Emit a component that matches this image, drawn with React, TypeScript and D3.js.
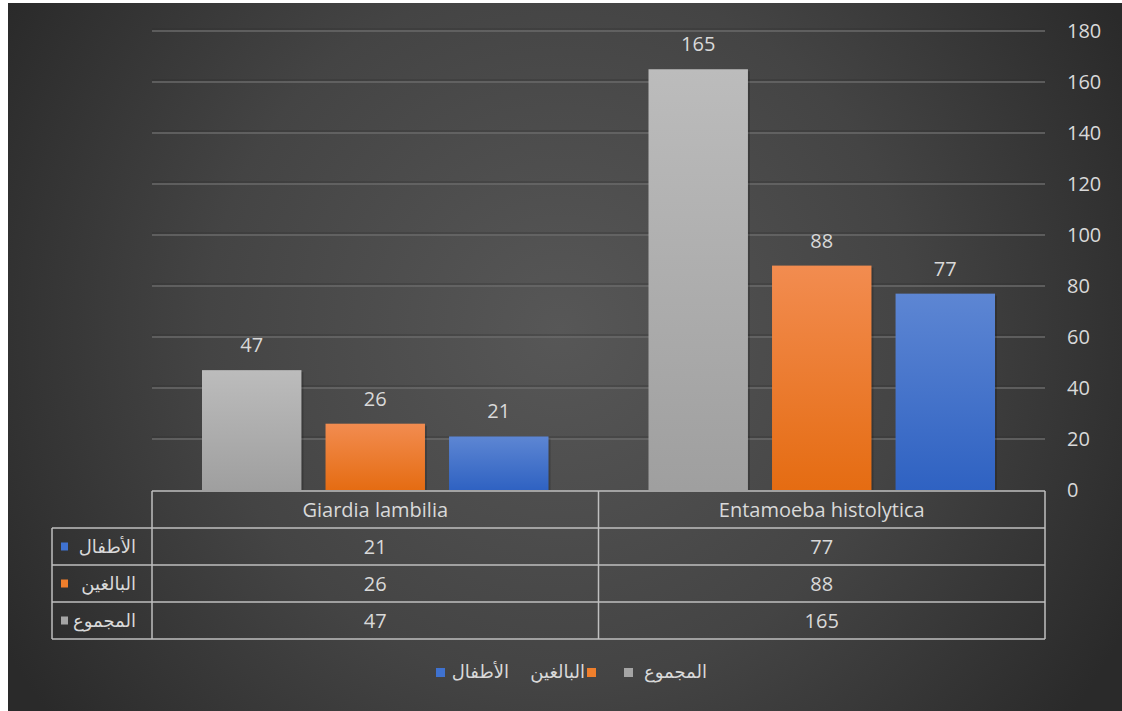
import React from "react";
import * as d3 from "d3";

const categories = ["Giardia lambilia", "Entamoeba histolytica"];
const seriesNames = ["المجموع", "البالغين", "الأطفال"];
const totalValues = [47, 165];
const adultValues = [26, 88];
const childValues = [21, 77];
const yTicks = [0, 20, 40, 60, 80, 100, 120, 140, 160, 180];

const W = 1122;
const H = 711;
const plotL = 152;
const plotR = 1045;
const plotT = 31;
const plotB = 490;
const rowH = 37;

const colors = [
  { top: "#bcbcbc", bottom: "#9f9f9f", key: "gray", sw: "#a5a5a5" },
  { top: "#f28c50", bottom: "#e56c12", key: "orange", sw: "#f07f2c" },
  { top: "#5d86d3", bottom: "#2f62c2", key: "blue", sw: "#3f72d0" },
];

const arFont = "'DejaVu Sans', sans-serif";
const latFont = "'Open Sans', 'Noto Sans', sans-serif";
const txt = "#d9d9d9";
const fs = 20;
const arFs = 18;

export default function App() {
  const series = [totalValues, adultValues, childValues];
  const y = d3.scaleLinear().domain([0, 180]).range([plotB, plotT]);
  const x0 = d3.scaleBand<string>().domain(categories).range([plotL, plotR]).paddingInner(0).paddingOuter(0);
  const bw = x0.bandwidth();
  const x1 = d3.scaleBand<number>().domain([0, 1, 2]).range([50, bw - 50]).paddingInner(0.195).paddingOuter(0);

  const tableRows = [
    { name: seriesNames[2], values: childValues, c: colors[2] },
    { name: seriesNames[1], values: adultValues, c: colors[1] },
    { name: seriesNames[0], values: totalValues, c: colors[0] },
  ];
  const tableTop = plotB + 1;
  const legendColL = 52;
  const lineColor = "#bfbfbf";

  return (
    <svg width={W} height={H} style={{ position: "absolute", left: 0, top: 0 }}>
      <defs>
        <radialGradient id="bg" cx="560" cy="330" r="640" gradientUnits="userSpaceOnUse">
          <stop offset="0" stopColor="#575757" />
          <stop offset="0.55" stopColor="#444444" />
          <stop offset="1" stopColor="#2a2a2a" />
        </radialGradient>
        {colors.map((c) => (
          <linearGradient key={c.key} id={"g-" + c.key} x1="0" y1="0" x2="0" y2="1">
            <stop offset="0" stopColor={c.top} />
            <stop offset="1" stopColor={c.bottom} />
          </linearGradient>
        ))}
      </defs>
      <rect x={0} y={0} width={W} height={H} fill="#ffffff" />
      <rect x={8} y={3} width={W - 8} height={H - 3} fill="url(#bg)" />

      {yTicks.filter((t) => t > 0).map((t) => (
        <g key={t}>
          <line x1={plotL} x2={plotR} y1={y(t) - 2} y2={y(t) - 2} stroke="#2e2e2e" strokeOpacity={0.5} strokeWidth={1} />
          <line x1={plotL} x2={plotR} y1={y(t)} y2={y(t)} stroke="#6a6a6a" strokeWidth={1.3} />
        </g>
      ))}

      {yTicks.map((t) => (
        <text key={t} x={1067} y={y(t)} dy="0.35em" fill={txt} fontFamily={latFont} fontSize={fs}>
          {t}
        </text>
      ))}

      {categories.map((cat, ci) => (
        <g key={cat} transform={`translate(${x0(cat)},0)`}>
          {series.map((vals, si) => {
            const bx = x1(si)!;
            const top = y(vals[ci]);
            return (
              <g key={si}>
                <rect x={bx + 2} y={top + 2} width={x1.bandwidth()} height={plotB - top - 2} fill="#000" opacity={0.18} />
                <rect x={bx} y={top} width={x1.bandwidth()} height={plotB - top} fill={`url(#g-${colors[si].key})`} />
                <text x={bx + x1.bandwidth() / 2} y={top - 25} dy="0.35em" textAnchor="middle" fill={txt} fontFamily={latFont} fontSize={fs}>
                  {vals[ci]}
                </text>
              </g>
            );
          })}
        </g>
      ))}

      <g fill="none" stroke={lineColor} strokeWidth={1.5}>
        <line x1={plotL} x2={plotR} y1={tableTop} y2={tableTop} />
        {[1, 2, 3, 4].map((r) => (
          <line key={r} x1={legendColL} x2={plotR} y1={tableTop + r * rowH} y2={tableTop + r * rowH} />
        ))}
        <line x1={legendColL} x2={legendColL} y1={tableTop + rowH} y2={tableTop + 4 * rowH} />
        <line x1={plotL} x2={plotL} y1={tableTop} y2={tableTop + 4 * rowH} />
        <line x1={x0(categories[1])!} x2={x0(categories[1])!} y1={tableTop} y2={tableTop + 4 * rowH} />
        <line x1={plotR} x2={plotR} y1={tableTop} y2={tableTop + 4 * rowH} />
      </g>
      {categories.map((cat) => (
        <text key={cat} x={x0(cat)! + bw / 2} y={tableTop + rowH / 2} dy="0.35em" textAnchor="middle" fill={txt} fontFamily={latFont} fontSize={fs}>
          {cat}
        </text>
      ))}
      {tableRows.map((row, ri) => {
        const cy = tableTop + rowH * (ri + 1) + rowH / 2;
        return (
          <g key={row.name}>
            <rect x={61} y={cy - 4} width={7} height={8} fill={row.c.sw} />
            <text x={136} y={cy} dy="0.35em" textAnchor="end" fill={txt} fontFamily={arFont} fontSize={arFs}>
              {row.name}
            </text>
            {categories.map((cat, ci) => (
              <text key={cat} x={x0(cat)! + bw / 2} y={cy} dy="0.35em" textAnchor="middle" fill={txt} fontFamily={latFont} fontSize={fs}>
                {row.values[ci]}
              </text>
            ))}
          </g>
        );
      })}

      <g fontFamily={arFont} fontSize={arFs} fill={txt}>
        <rect x={436} y={668} width={9} height={9} fill={colors[2].sw} />
        <text x={509} y={672} dy="0.35em" textAnchor="end">{seriesNames[2]}</text>
        <text x={585} y={672} dy="0.35em" textAnchor="end">{seriesNames[1]}</text>
        <rect x={587} y={668} width={9} height={9} fill={colors[1].sw} />
        <rect x={624} y={668} width={9} height={9} fill={colors[0].sw} />
        <text x={707} y={672} dy="0.35em" textAnchor="end">{seriesNames[0]}</text>
      </g>
    </svg>
  );
}
